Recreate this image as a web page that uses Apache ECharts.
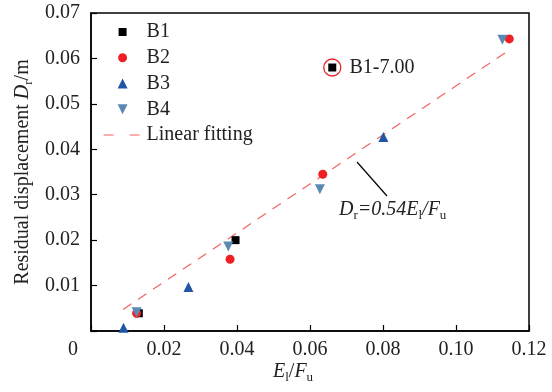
<!DOCTYPE html>
<html><head><meta charset="utf-8">
<script src="https://cdn.jsdelivr.net/npm/echarts@6/dist/echarts.min.js"></script>
<style>html,body{margin:0;padding:0;background:#fff}#c{width:552px;height:392px}</style>
</head><body><div id="c"></div>
<script>
const seriesNames = ['B1', 'B2', 'B3', 'B4', 'Linear fitting'];
const b1 = [[0.0131, 0.0039], [0.0396, 0.0200]];
const b1Outlier = [[0.0661, 0.0580]];
const b2 = [[0.0125, 0.0039], [0.0381, 0.0158], [0.0635, 0.0345], [0.1146, 0.0643]];
const b3 = [[0.0089, 0.0007], [0.0267, 0.0097], [0.0801, 0.0427]];
const b4 = [[0.0125, 0.0041], [0.0376, 0.0186], [0.0627, 0.0312], [0.1127, 0.0641]];
const fitLine = [[0.0088, 0.00475], [0.1136, 0.0613]];
const outlierLabel = 'B1-7.00';
const xRange = [0, 0.12, 0.02];
const yRange = [0, 0.07, 0.01];

const FONT = 'Liberation Serif';
const chart = echarts.init(document.getElementById('c'));
const axisCommon = {
  axisLine: { lineStyle: { color: '#000', width: 1.5 } },
  axisTick: { inside: true, length: 6, lineStyle: { color: '#000', width: 1.2 } },
  splitLine: { show: false },
};
// legend icons drawn in a 38x10 box (tiny corner marks fix the box size)
const box = 'M0,0l0.01,0l0,0.01zM38,10l-0.01,0l0,-0.01z';
const legendIcons = {
  B1: 'path://' + box + 'M15,1h8v8h-8z',
  B2: 'path://' + box + 'M14.5,5A4.5,4.5 0 1,0 23.5,5A4.5,4.5 0 1,0 14.5,5z',
  B3: 'path://' + box + 'M14,10L19,0L24,10z',
  B4: 'path://' + box + 'M14,0L24,0L19,10z'
};
chart.setOption({
  animation: false,
  backgroundColor: '#fff',
  textStyle: { fontFamily: FONT },
  grid: { left: 91, right: 23, top: 13, bottom: 61, show: true, borderColor: '#000', borderWidth: 1.5 },
  xAxis: Object.assign({
    type: 'value', min: xRange[0], max: xRange[1], interval: xRange[2],
    axisLabel: {
      color: '#222', fontFamily: FONT, fontSize: 20, margin: 9,
      formatter: v => v === 0 ? '{o|0}' : v.toFixed(2),
      rich: { o: { fontFamily: FONT, fontSize: 20, color: '#222', padding: [0, 36, 0, 0] } }
    }
  }, axisCommon),
  yAxis: Object.assign({
    type: 'value', min: yRange[0], max: yRange[1], interval: yRange[2],
    axisLabel: {
      color: '#222', fontFamily: FONT, fontSize: 20, margin: 11,
      formatter: v => v === 0 ? '' : v.toFixed(2)
    }
  }, axisCommon),
  legend: {
    orient: 'vertical', left: 98, top: 17, itemWidth: 38, itemHeight: 10, itemGap: 5.75,
    data: seriesNames.map(n => n === 'Linear fitting'
      ? { name: n, itemStyle: { opacity: 0 }, lineStyle: { type: [10, 16], color: '#f06363', width: 1.2 } }
      : { name: n, icon: legendIcons[n] }),
    textStyle: { fontFamily: FONT, fontSize: 20, color: '#222', lineHeight: 20 }
  },
  series: [
    { name: 'B1', type: 'scatter', symbol: 'rect', symbolSize: 8, itemStyle: { color: '#000', opacity: 1 }, data: b1.concat(b1Outlier), z: 3 },
    { name: 'B2', type: 'scatter', symbol: 'circle', symbolSize: 9, itemStyle: { color: '#ee2026', opacity: 1 }, data: b2, z: 3 },
    { name: 'B3', type: 'scatter', symbol: 'triangle', symbolSize: 10, itemStyle: { color: '#2255a4', opacity: 1 }, data: b3, z: 3 },
    { name: 'B4', type: 'scatter', symbol: 'triangle', symbolRotate: 180, symbolSize: 10, itemStyle: { color: '#5a8ab2', opacity: 1 }, data: b4, z: 3 },
    { name: 'Linear fitting', type: 'line', symbol: 'none', data: fitLine, z: 2,
      lineStyle: { color: '#f06363', width: 1.2, type: [10, 8] }, itemStyle: { color: '#f06363' } },
    { name: 'outlier', type: 'scatter', symbol: 'circle', symbolSize: 17, data: b1Outlier, z: 4, silent: true,
      itemStyle: { color: 'transparent', borderColor: '#ee2026', borderWidth: 1.3, opacity: 1 },
      label: { show: true, position: 'right', distance: 8, formatter: outlierLabel, fontFamily: FONT, fontSize: 20, color: '#222' } }
  ],
  graphic: [
    { type: 'line', shape: { x1: 357, y1: 162, x2: 387, y2: 196 }, style: { stroke: '#000', lineWidth: 1.2 } },
    { type: 'text', left: 339, top: 200, style: {
        text: '{i|D}{s|r}{n|=0.54}{i|E}{s|l}{n|/}{i|F}{s|u}',
        rich: {
          i: { fontFamily: FONT, fontSize: 20, fontStyle: 'italic', fill: '#222', lineHeight: 22, verticalAlign: 'top' },
          n: { fontFamily: FONT, fontSize: 20, fontStyle: 'italic', fill: '#222', lineHeight: 22, verticalAlign: 'top' },
          s: { fontFamily: FONT, fontSize: 13, fill: '#222', lineHeight: 22, verticalAlign: 'bottom' }
        } } },
    { type: 'text', left: 273, top: 362, style: {
        text: '{i|E}{s|l}{n|/}{i|F}{s|u}',
        rich: {
          i: { fontFamily: FONT, fontSize: 20, fontStyle: 'italic', fill: '#222', lineHeight: 22, verticalAlign: 'top' },
          n: { fontFamily: FONT, fontSize: 20, fill: '#222', lineHeight: 22, verticalAlign: 'top' },
          s: { fontFamily: FONT, fontSize: 13, fill: '#222', lineHeight: 22, verticalAlign: 'bottom' }
        } } },
    { type: 'text', x: 24, y: 172, rotation: Math.PI / 2, style: {
        text: '{n|Residual displacement }{i|D}{s|r}{n|/m}', align: 'center', verticalAlign: 'middle',
        rich: {
          i: { fontFamily: FONT, fontSize: 20, fontStyle: 'italic', fill: '#222', lineHeight: 22, verticalAlign: 'top' },
          n: { fontFamily: FONT, fontSize: 20, fill: '#222', lineHeight: 22, verticalAlign: 'top' },
          s: { fontFamily: FONT, fontSize: 13, fill: '#222', lineHeight: 22, verticalAlign: 'bottom' }
        } } }
  ]
});
</script></body></html>
